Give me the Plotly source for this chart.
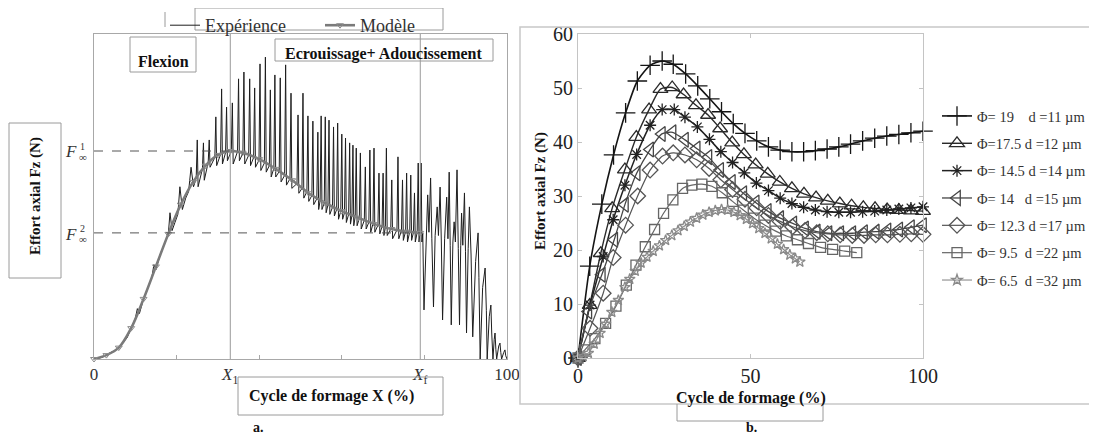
import plotly.graph_objects as go

W, H = 1097, 435          # target window
OFF = 8                   # page body margin
WF, HF = W - OFF, H - OFF # figure size so it ends at the window edge
SERIF = "Liberation Serif"

# ---------------- Panel a data ----------------
X1, XF = 33, 79
F1, F2 = 6.4, 3.88

model_x = [0, 3, 6, 9, 12, 15, 18, 21, 24, 27, 30, 33, 36, 40, 44, 48, 52, 56, 60, 64, 68, 72, 76, 79]
model_y = [0, 0.12, 0.35, 0.95, 1.85, 2.85, 3.85, 4.75, 5.45, 5.95, 6.28, 6.4, 6.35, 6.15, 5.85,
           5.5, 5.1, 4.8, 4.55, 4.35, 4.15, 4.0, 3.92, 3.88]

exp_early_x = [0, 2, 4, 5, 6, 7, 8, 9, 10, 10.5, 11, 12, 13, 14, 14.5, 15, 16, 17, 18, 18.4,
               18.9, 19.6, 20.3, 20.8, 21.4, 22.2, 22.9, 23.5, 24.1, 24.6]
exp_early_y = [0, 0.05, 0.2, 0.25, 0.35, 0.5, 0.65, 0.95, 1.25, 1.55, 1.4, 1.85, 2.15, 2.5, 2.9,
               2.75, 3.2, 3.5, 3.85, 4.5, 3.95, 4.2, 4.45, 5.3, 4.6, 4.95, 5.15, 5.9, 5.3, 5.5]

spike_x = [25.0, 26.5, 27.9, 29.5, 30.9, 32.1, 33.5, 35.0, 36.3, 37.7,
           38.9, 40.2, 41.5, 42.7, 43.8, 45.1, 46.4, 47.7, 49.4, 50.6,
           51.8, 53.0, 54.2, 55.0, 56.0, 56.9, 58.0, 59.0, 60.0, 60.9,
           61.9, 62.7, 63.5, 64.5, 65.7, 66.8, 67.8, 69.0, 70.0, 70.8,
           72.1, 73.6, 74.7, 75.7, 76.7, 77.6, 78.5, 79.2]
spike_top = [6.74, 6.65, 6.74, 7.45, 8.31, 7.75, 7.88, 8.62, 8.83, 8.62,
             8.34, 9.08, 9.29, 8.28, 8.74, 8.65, 9.05, 8.18, 7.51, 8.18,
             7.48, 7.32, 6.98, 7.48, 7.45, 7.35, 7.14, 7.26, 6.92, 6.80,
             6.65, 6.58, 6.49, 6.34, 5.91, 6.43, 6.49, 5.72, 5.72, 6.49,
             5.51, 6.22, 5.51, 5.72, 5.66, 5.11, 6.03, 6.03]
spike_base = [5.6, 5.85, 6.05, 6.2, 6.3, 6.35, 6.4, 6.38, 6.33, 6.27,
              6.2, 6.12, 6.03, 5.95, 5.87, 5.77, 5.65, 5.55, 5.4, 5.25,
              5.15, 5.03, 4.93, 4.87, 4.8, 4.74, 4.67, 4.6, 4.55, 4.5,
              4.45, 4.41, 4.38, 4.33, 4.27, 4.21, 4.16, 4.12, 4.08, 4.05,
              4.0, 3.97, 3.95, 3.93, 3.92, 3.9, 3.89, 3.88]
spike_dip = [5.3, 5.5, 5.9, 5.95, 6.0, 6.1, 6.0, 6.1, 6.0, 5.95,
             5.9, 5.8, 5.75, 5.6, 5.6, 5.45, 5.35, 5.25, 5.1, 4.95,
             4.85, 4.75, 4.6, 4.6, 4.5, 4.45, 4.4, 4.3, 4.3, 4.2,
             4.15, 4.1, 4.1, 4.0, 4.0, 3.9, 3.9, 3.85, 3.8, 3.8,
             3.7, 3.7, 3.65, 3.6, 3.65, 3.6, 3.6, 3.6]

exp_tail_x = [79.6, 79.9, 80.4, 80.8, 81.1, 81.5, 81.8, 82.2, 82.6, 83.1, 83.4, 83.8, 84.1, 84.4,
              84.9, 85.4, 85.7, 86.0, 86.25, 86.5, 86.9, 87.2, 87.5, 87.9, 88.2, 88.5, 88.8, 89.0,
              89.3, 89.7, 89.95, 90.2, 90.6, 90.9, 91.3, 91.7, 92.4, 93.0, 93.2, 93.5, 94.1, 94.7,
              95.0, 95.2, 95.7, 96.1, 96.3, 96.6, 96.9, 97.1, 97.3, 97.5, 98.0, 98.3, 98.5, 98.7,
              99.2, 99.5, 99.7, 100]
exp_tail_y = [3.88, 1.51, 3.9, 5.05, 3.9, 5.57, 3.7, 1.6, 3.8, 4.68, 3.8, 5.29, 3.6, 1.2,
              3.7, 4.98, 3.7, 5.75, 3.5, 1.05, 3.6, 4.22, 3.6, 5.82, 3.4, 1.05, 3.5, 4.49,
              3.5, 5.11, 3.3, 0.8, 3.4, 4.68, 3.2, 0.68, 3.0, 3.88, 2.5, 0, 2.2, 2.8,
              1.5, 0, 1.3, 1.66, 0.8, 0, 0.6, 0.8, 0.3, 0, 0.4, 0.49, 0.2, 0,
              0.2, 0.28, 0.1, 0]

a_xtick_vals = [0, X1, XF, 100]
a_xtick_text = ["0", "<i>X</i><sub>1</sub>", "<i>X</i><sub>f</sub>", "100"]

# ---------------- Panel b data ----------------
b_names = ["Φ= 19\u00a0\u00a0\u00a0\u00a0d =11 µm",
           "Φ=17.5 d =12 µm",
           "Φ= 14.5 d =14 µm",
           "Φ= 14\u00a0\u00a0\u00a0d =15 µm",
           "Φ= 12.3 d =17 µm",
           "Φ= 9.5\u00a0 d =22 µm",
           "Φ= 6.5\u00a0 d =32 µm"]

x1 = [0, 3.4, 6.9, 10.3, 13.8, 17.2, 20.9, 24.4, 27.6, 31.2, 34.7, 38.2, 41.6, 45.0, 48.4,
      51.8, 55.2, 58.6, 62.0, 65.4, 68.8, 72.2, 75.6, 79.0, 82.5, 86.0, 89.5, 93.0, 96.5, 100]
y1 = [0, 17.0, 28.5, 37.6, 45.4, 51.3, 54.2, 55.0, 54.4, 52.6, 50.4, 48.0, 45.6, 43.4, 41.6,
      40.2, 39.1, 38.5, 38.2, 38.2, 38.4, 38.7, 39.1, 39.6, 40.2, 40.7, 41.1, 41.4, 41.7, 42.0]
x2 = [0, 3.4, 6.6, 9.9, 13.6, 16.9, 20.6, 23.9, 27.3, 30.6, 34.2, 37.7, 41.2, 44.7, 48.1,
      51.5, 55.0, 58.5, 62.0, 65.5, 69.0, 72.4, 75.9, 79.3, 82.7, 86.1, 89.6, 93.0, 96.5, 100]
y2 = [0, 9.8, 19.4, 27.7, 34.9, 40.9, 46.0, 49.8, 50.1, 48.8, 46.8, 45.0, 42.5, 39.9, 37.7,
      35.8, 34.1, 32.6, 31.4, 30.4, 29.7, 29.1, 28.6, 28.2, 27.9, 27.7, 27.5, 27.4, 27.3, 27.2]
x3 = [0, 3.5, 7.3, 10.2, 13.6, 17.0, 20.9, 24.4, 27.9, 31.0, 34.6, 38.1, 41.4, 44.8, 48.2,
      51.7, 55.2, 58.6, 62.0, 65.4, 68.8, 72.2, 75.6, 79.0, 82.5, 86.0, 89.5, 93.0, 96.5, 100]
y3 = [0, 9.8, 18.8, 25.6, 32.0, 37.7, 43.1, 46.0, 46.0, 44.6, 42.8, 40.5, 38.2, 36.2, 34.3,
      32.4, 31.0, 29.6, 28.6, 27.9, 27.4, 27.1, 27.0, 27.0, 27.1, 27.2, 27.4, 27.6, 27.8, 28.0]
x4 = [0, 3.0, 6.9, 10.5, 13.6, 17.0, 20.9, 24.3, 27.4, 31.0, 34.4, 37.8, 41.2, 44.6, 47.9,
      51.5, 55.0, 58.6, 62.4, 65.8, 69.2, 72.6, 76.0, 79.5, 82.9, 86.3, 89.7, 93.1, 96.5, 100]
y4 = [0, 8.6, 15.4, 21.9, 28.4, 34.2, 38.6, 41.5, 41.8, 40.4, 38.8, 37.2, 34.8, 32.6, 30.5,
      28.8, 27.2, 25.9, 24.9, 24.0, 23.4, 23.1, 23.1, 23.1, 23.3, 23.4, 23.6, 23.8, 24.2, 24.6]
x5 = [0, 3.5, 7.3, 10.2, 13.8, 17.3, 20.9, 24.5, 27.6, 31.0, 34.4, 38.0, 41.4, 44.8, 48.4,
      51.8, 55.2, 58.6, 62.2, 65.8, 69.2, 72.4, 76.0, 79.5, 82.9, 86.3, 89.7, 93.3, 96.6, 100]
y5 = [0, 5.5, 12.0, 18.6, 24.6, 30.0, 34.8, 37.4, 38.0, 37.6, 36.7, 35.1, 33.0, 31.2, 29.4,
      27.8, 26.4, 25.3, 24.3, 23.6, 23.2, 23.0, 22.8, 22.7, 22.7, 22.8, 22.8, 22.9, 23.0, 22.9]
x6 = [0, 2.0, 4.9, 8.0, 11.0, 14.0, 16.8, 19.5, 22.2, 24.8, 27.5, 30.3, 33.0, 35.9, 38.8,
      41.8, 44.8, 47.9, 51.0, 54.2, 57.3, 60.4, 63.6, 66.8, 70.3, 73.8, 77.3, 80.8]
y6 = [0, 1.5, 3.6, 6.4, 9.6, 13.5, 17.2, 20.6, 23.8, 26.8, 29.3, 31.4, 32.0, 32.2, 31.8,
      30.6, 29.0, 27.4, 25.9, 24.6, 23.5, 22.6, 21.9, 21.2, 20.5, 20.1, 19.8, 19.5]
x7 = [0, 1.5, 3.0, 4.7, 6.4, 8.0, 9.8, 11.7, 13.6, 15.0, 16.6, 18.3, 20.0, 21.8, 23.6, 25.4,
      27.2, 29.0, 30.8, 32.6, 34.4, 36.2, 38.0, 39.8, 41.6, 43.4, 45.2, 47.0, 48.8, 50.6,
      52.4, 54.2, 56.0, 57.8, 59.6, 61.4, 63.0, 64.3]
y7 = [0, 0.3, 0.9, 2.6, 4.6, 6.3, 8.5, 10.7, 13.1, 14.6, 16.1, 17.6, 18.7, 19.8, 20.8, 21.8,
      22.7, 23.6, 24.4, 25.2, 25.9, 26.5, 27.0, 27.3, 27.5, 27.4, 27.0, 26.4, 25.7, 24.9,
      24.0, 23.1, 22.1, 21.1, 20.1, 19.1, 18.4, 17.8]

b_x = [x1, x2, x3, x4, x5, x6, x7]
b_y = [y1, y2, y3, y4, y5, y6, y7]
b_symbols = ["cross-thin-open", "triangle-up-open", "asterisk-open", "triangle-left-open",
             "diamond-open", "square-open", "star-open"]
b_sizes = [14, 13, 10, 13, 12, 10, 8]
b_colors = ["#151515", "#2a2a2a", "#222222", "#454545", "#555555", "#666666", "#8a8a8a"]
b_widths = [1.6, 1.4, 1.5, 1.3, 1.2, 1.2, 1.1]


def PX(px):
    return (px - OFF) / WF


def PY(py):
    return 1 - (py - OFF) / HF


fig = go.Figure()

# ---- panel a traces ----
ex, ey = list(exp_early_x), list(exp_early_y)
for xs, b, t, d in zip(spike_x, spike_base, spike_top, spike_dip):
    ex += [xs - 0.25, xs, xs + 0.2]
    ey += [b, t, d]
ex += exp_tail_x
ey += exp_tail_y

fig.add_trace(go.Scatter(x=ex, y=ey, mode="lines", name="Expérience",
                         line=dict(color="#1e1e1e", width=1), xaxis="x", yaxis="y",
                         legend="legend"))
fig.add_trace(go.Scatter(x=model_x, y=model_y, mode="lines+markers", name="Modèle",
                         line=dict(color="#7a7a7a", width=2.6, shape="spline"),
                         marker=dict(symbol="triangle-down-open", size=6, color="#8a8a8a",
                                     line=dict(width=1)),
                         xaxis="x", yaxis="y", legend="legend", cliponaxis=False))

# ---- panel b traces ----
for i in range(7):
    fig.add_trace(go.Scatter(
        x=b_x[i], y=b_y[i], mode="lines+markers", name=b_names[i],
        line=dict(color=b_colors[i], width=b_widths[i], shape="spline", smoothing=0.6),
        marker=dict(symbol=b_symbols[i], size=b_sizes[i], color=b_colors[i],
                    line=dict(width=1.3, color=b_colors[i])),
        xaxis="x2", yaxis="y2", legend="legend2", legendgroup=f"g{i}", cliponaxis=False))

fig.update_layout(
    width=WF, height=HF, margin=dict(l=0, r=0, t=0, b=0, autoexpand=False),
    paper_bgcolor="white", plot_bgcolor="white", showlegend=True,
    xaxis=dict(domain=[PX(94), PX(507)], range=[0, 100], anchor="y",
               showline=True, linecolor="#a8a8a8", linewidth=1, mirror=True,
               showgrid=False, zeroline=False,
               tickvals=a_xtick_vals, ticktext=a_xtick_text, ticks="",
               tickfont=dict(family=SERIF, size=17, color="#333"),
               minor=dict(tickvals=[20, 40, 60, 80], ticks="inside", ticklen=4,
                          tickcolor="#a8a8a8", showgrid=False)),
    yaxis=dict(domain=[PY(359), PY(34)], range=[0, 10], anchor="x",
               showline=True, linecolor="#a8a8a8", linewidth=1, mirror=True,
               showgrid=False, zeroline=False, showticklabels=False, ticks=""),
    yaxis3=dict(overlaying="y", side="right", anchor="x", range=[0, 10], dtick=1,
                ticks="inside", ticklen=4, tickcolor="#a8a8a8", showticklabels=False,
                showgrid=False, zeroline=False, showline=False),
    xaxis2=dict(domain=[PX(578), PX(923)], range=[0, 100], anchor="y2",
                showline=True, linecolor="#c4c4c4", linewidth=1.2, mirror="allticks",
                showgrid=False, zeroline=False, tickvals=[0, 50, 100],
                ticks="inside", ticklen=4, tickcolor="#c4c4c4",
                tickfont=dict(family=SERIF, size=20, color="#222")),
    yaxis2=dict(domain=[PY(358), PY(34)], range=[0, 60], anchor="x2", dtick=10,
                showline=True, linecolor="#c4c4c4", linewidth=1.2, mirror="allticks",
                showgrid=False, zeroline=False, ticks="inside", ticklen=4,
                tickcolor="#c4c4c4", tickfont=dict(family=SERIF, size=20, color="#222")),
    legend=dict(orientation="h", x=PX(165), y=PY(7), xanchor="left", yanchor="top",
                font=dict(family=SERIF, size=18, color="#333"), bgcolor="rgba(0,0,0,0)",
                borderwidth=0, entrywidth=110, itemwidth=30),
    legend2=dict(x=PX(937), y=PY(100), xanchor="left", yanchor="top",
                 font=dict(family=SERIF, size=14.5, color="#333"), bgcolor="rgba(0,0,0,0)",
                 borderwidth=0, tracegroupgap=5.5, itemwidth=30),
)

# ---- shapes ----
shapes = []
for xv in (X1, XF):
    shapes.append(dict(type="line", xref="x", yref="y domain", x0=xv, x1=xv, y0=0, y1=1,
                       line=dict(color="#9a9a9a", width=1)))
shapes.append(dict(type="line", xref="x", yref="y", x0=0, x1=X1, y0=F1, y1=F1,
                   line=dict(color="#555", width=1, dash="dash")))
shapes.append(dict(type="line", xref="x", yref="y", x0=0, x1=XF, y0=F2, y1=F2,
                   line=dict(color="#555", width=1, dash="dash")))


def rect(x0, y0, x1, y1, color="#9a9a9a", width=1):
    shapes.append(dict(type="rect", xref="paper", yref="paper", x0=PX(x0), y0=PY(y0),
                       x1=PX(x1), y1=PY(y1), line=dict(color=color, width=width),
                       fillcolor="rgba(0,0,0,0)"))


def seg(x0, y0, x1, y1, color="#9a9a9a", width=1):
    shapes.append(dict(type="line", xref="paper", yref="paper", x0=PX(x0), y0=PY(y0),
                       x1=PX(x1), y1=PY(y1), line=dict(color=color, width=width)))


rect(195, 8, 443, 30)          # legend a box
seg(165, 12, 165, 27)          # legend a left bar
rect(130, 37, 196, 72)         # Flexion box
rect(275, 39, 493, 61)         # Ecrouissage box
rect(9, 123, 61, 278)          # y title box a
rect(238, 377, 443, 415)       # x title box a
rect(520, 27, 1110, 404, color="#c8c8c8", width=1.5)   # panel b frame
seg(677, 404, 677, 421)
seg(677, 421, 823, 421)
seg(823, 404, 823, 421)
fig.update_layout(shapes=shapes)


def text(px, py, s, size=15, bold=True, angle=0, xanchor="center", color="#111", italic=False):
    s2 = f"<b>{s}</b>" if bold else s
    if italic:
        s2 = f"<i>{s2}</i>"
    fig.add_annotation(x=PX(px), y=PY(py), xref="paper", yref="paper", text=s2,
                       showarrow=False, font=dict(family=SERIF, size=size, color=color),
                       textangle=angle, xanchor=xanchor, yanchor="middle")


text(163, 61, "Flexion", size=16)
text(384, 54, "Ecrouissage+ Adoucissement", size=16)
text(35, 196, "Effort axial Fz (N)", size=15, angle=-90)
text(331, 396, "Cycle de formage X (%)", size=16)
text(258, 427, "a.", size=14)
text(540, 191, "Effort axial Fz (N)", size=15, angle=-90)
text(751, 398, "Cycle de formage (%)", size=16)
text(751, 427, "b.", size=14)
# F infinity labels
text(71, 152, "F", size=17, bold=False, italic=True, color="#333")
text(78, 146, "1", size=10, bold=False, color="#333", xanchor="left")
text(77, 157, "∞", size=11, bold=False, color="#333", xanchor="left")
text(71, 234, "F", size=17, bold=False, italic=True, color="#333")
text(78, 228, "2", size=10, bold=False, color="#333", xanchor="left")
text(77, 239, "∞", size=11, bold=False, color="#333", xanchor="left")

fig.write_html("out.html")
